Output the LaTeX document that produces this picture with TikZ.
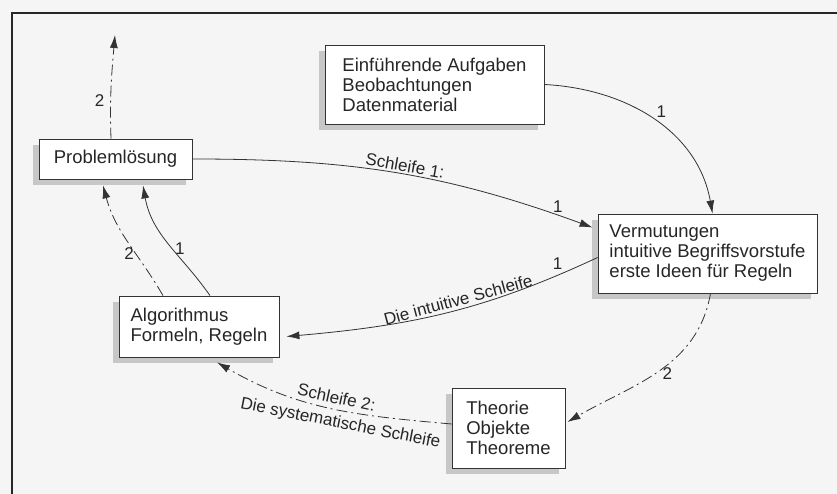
\documentclass[tikz,border=0pt]{standalone}
\usepackage{fontspec}
\setmainfont{Liberation Sans}
\usetikzlibrary{arrows.meta, positioning, shadows, calc}

\begin{document}
\begin{tikzpicture}[
    x=1pt, y=1pt,
    box/.style={draw=black!80, fill=white, line width=0.8pt, align=left, inner sep=2pt,
        font=\fontsize{18.5}{20}\selectfont, text=black!85,
        drop shadow={shadow xshift=-6pt, shadow yshift=-6pt, fill=black!22, opacity=1}},
    arrow/.style={-{Latex[length=13pt, width=8pt]}, line width=0.8pt, draw=black!80},
    dashdot/.style={dash pattern=on 11pt off 4pt on 2pt off 4pt},
    lbl/.style={font=\fontsize{17}{20}\selectfont, text=black!85, inner sep=2pt}
]

% paper and frame
\fill[black!4] (0,0) rectangle (837,494);
\useasboundingbox (0,0) rectangle (837,494);
\draw[line width=1.6pt, black!85] (12,-5) -- (12,481) -- (845,481);

% boxes
\node[box, minimum width=219pt, minimum height=79pt] (tasks) at (434.5,409.5) {Einführende Aufgaben\\Beobachtungen\\Datenmaterial};
\node[box, minimum width=153pt, minimum height=40pt, align=center] (solve) at (115.5,335) {Problemlösung};
\node[box, minimum width=219pt, minimum height=79pt] (guess) at (707.5,240.5) {Vermutungen\\intuitive Begriffsvorstufe\\erste Ideen für Regeln};
\node[box, minimum width=160pt, minimum height=61pt] (algo) at (199,167.5) {Algorithmus\\Formeln, Regeln};
\node[box, minimum width=113pt, minimum height=80pt] (theory) at (508.5,66) {Theorie\\Objekte\\Theoreme};
\coordinate (up) at (115,459);

% connectors
\draw[arrow] (tasks.east) to[out=-3, in=100] node[lbl, pos=0.5, above right] {1} ([xshift=5pt]guess.north);
\draw[arrow] (solve.east) to[out=0, in=160] node[lbl, pos=0.52, sloped, above] {Schleife 1:} node[lbl, pos=0.92, above] {1} ([xshift=-5pt, yshift=26pt]guess.west);
\draw[arrow] ([yshift=-4pt]guess.west) to[out=205, in=5] node[lbl, pos=0.45, sloped, above=1pt] {Die intuitive Schleife} node[lbl, pos=0.1, above left] {1} ([xshift=7pt, yshift=-10pt]algo.east);
\draw[arrow, dashdot] ([xshift=3pt]guess.south) to[out=-100, in=30] node[lbl, pos=0.52, right=5pt] {2} ([xshift=2pt, yshift=6pt]theory.east);
\draw[arrow, dashdot] ([yshift=4pt]theory.west) to[out=175, in=-30] node[lbl, pos=0.48, sloped, above=3pt] {Schleife 2:} node[lbl, pos=0.44, sloped, below=3pt] {Die systematische Schleife} ([xshift=18pt, yshift=-5pt]algo.south);
\draw[arrow] ([xshift=11pt]algo.north) to[out=125, in=-80] node[lbl, pos=0.45, right] {1} ([xshift=27.5pt, yshift=-6pt]solve.south);
\draw[arrow, dashdot] ([xshift=-36pt]algo.north) to[out=120, in=-75] node[lbl, pos=0.38, left] {2} ([xshift=-12.5pt, yshift=-6pt]solve.south);
\draw[arrow, dashdot] ([xshift=-4.5pt]solve.north) to[out=92, in=-95] node[lbl, pos=0.36, left=4pt] {2} (up);

\end{tikzpicture}
\end{document}
